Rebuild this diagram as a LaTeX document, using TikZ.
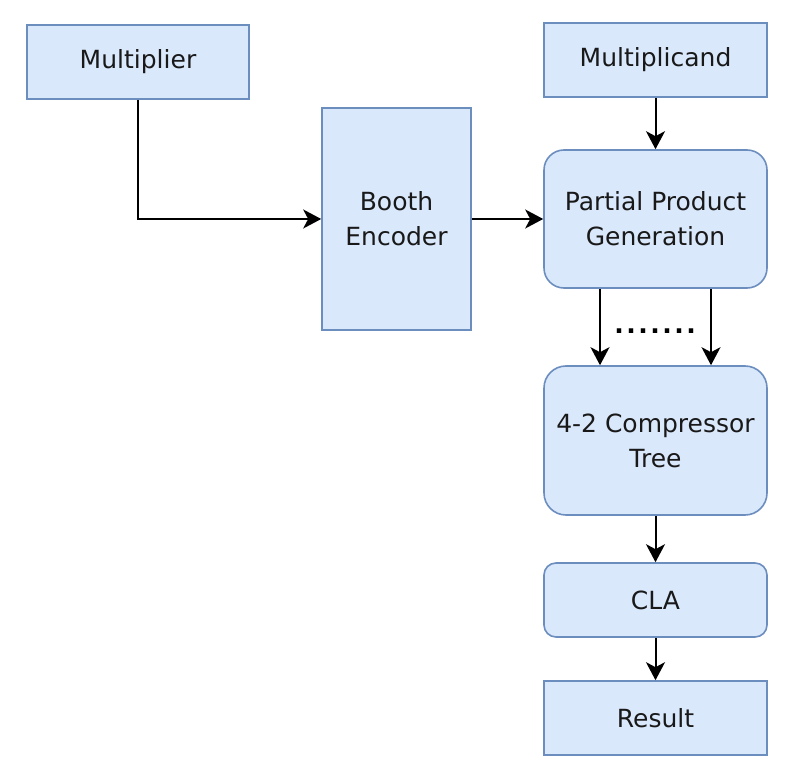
\documentclass[tikz,border=0pt]{standalone}
\usepackage{fontspec}
\setmainfont{DejaVu Sans}
\usetikzlibrary{arrows.meta}
\definecolor{boxfill}{HTML}{DAE8FC}
\definecolor{boxline}{HTML}{6C8EBF}

\begin{document}
\begin{tikzpicture}[x=1pt,y=-1pt,
	blk/.style={draw=boxline,fill=boxfill,line width=1.6pt,align=center,inner sep=1pt,
		font=\fontsize{25}{35}\selectfont,text=black!90},
	rblk/.style={blk,rounded corners=#1},
	arr/.style={line width=2pt,-{Stealth[width=19pt,length=18pt,inset=5pt]}}]
	\useasboundingbox (0,0) rectangle (812,765);
	% inputs
	\node[blk,minimum width=222pt,minimum height=74pt] (mult) at (138,62) {Multiplier};
	\node[blk,minimum width=223pt,minimum height=74pt] (mcand) at (655.5,60) {Multiplicand};
	\node[blk,minimum width=149pt,minimum height=222pt] (booth) at (396.5,219) {Booth\\Encoder};
	% datapath
	\node[rblk=20pt,minimum width=223pt,minimum height=138pt] (ppg) at (655.5,219) {Partial Product\\Generation};
	\node[rblk=22pt,minimum width=223pt,minimum height=149pt] (comp) at (655.5,440.5) {4-2 Compressor\\Tree};
	\node[rblk=12pt,minimum width=223pt,minimum height=74pt] (cla) at (655.5,600) {CLA};
	\node[blk,minimum width=223pt,minimum height=74pt] (res) at (655.5,718) {Result};
	\node[font=\fontsize{25}{25}\bfseries\addfontfeature{LetterSpace=10}] (dots) at (655,331) {.......};
	% connections
	\draw[arr] (mult.south) |- (booth.west);
	\draw[arr] (booth.east) -- (ppg.west);
	\draw[arr] (mcand) -- (ppg);
	\foreach \dx in {-55.5,55.5}
		\draw[arr] ([xshift=\dx pt]ppg.south) -- ([xshift=\dx pt]comp.north);
	\draw[arr] (comp) -- (cla);
	\draw[arr] (cla) -- (res);
\end{tikzpicture}
\end{document}
